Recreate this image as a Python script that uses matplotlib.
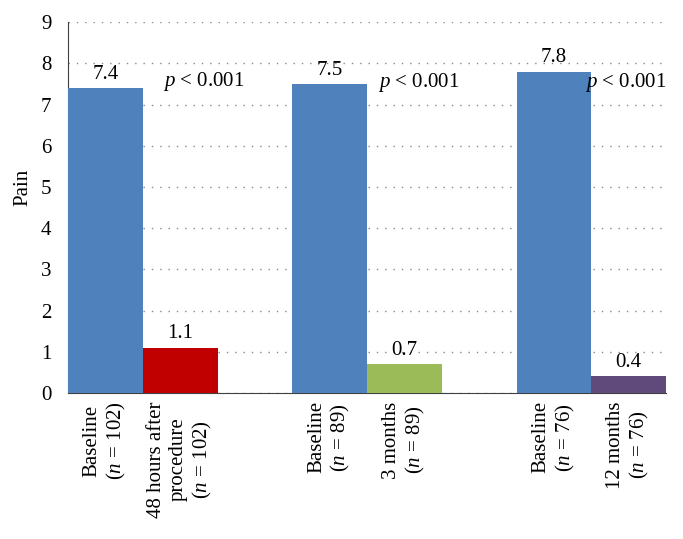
import matplotlib
matplotlib.use('Agg')
import matplotlib.pyplot as plt

plt.rcParams['font.family'] = ['Liberation Serif', 'DejaVu Serif']
plt.rcParams['mathtext.fontset'] = 'custom'
plt.rcParams['mathtext.rm'] = 'Liberation Serif'
plt.rcParams['mathtext.it'] = 'Liberation Serif:italic'

# data
positions = [0, 1, 3, 4, 6, 7]
pain = [7.4, 1.1, 7.5, 0.7, 7.8, 0.4]
value_labels = ['7.4', '1.1', '7.5', '0.7', '7.8', '0.4']
colors = ['#4F81BD', '#C00000', '#4F81BD', '#9BBB59', '#4F81BD', '#604A7B']
tick_labels = ['Baseline\n($n$ = 102)', '48 hours after\nprocedure\n($n$ = 102)',
               'Baseline\n($n$ = 89)', '3 months\n($n$ = 89)',
               'Baseline\n($n$ = 76)', '12 months\n($n$ = 76)']
p_text = ['$p$ < 0.001'] * 3
p_x = [0.77, 3.65, 6.42]
p_y = [7.55, 7.53, 7.53]

FS = 15

fig = plt.figure(figsize=(6.83, 5.39), dpi=100, facecolor='w')
ax = fig.add_axes([0.0996, 0.271, 0.8755, 0.688])

ax.bar(positions, pain, width=1.0, color=colors, zorder=3)
for x, v, s in zip(positions, pain, value_labels):
    ax.annotate(s, (x, v), xytext=(0, 3), textcoords='offset points',
                ha='center', va='bottom', fontsize=FS)
for x, y, s in zip(p_x, p_y, p_text):
    ax.text(x, y, s, ha='left', va='center', fontsize=FS)

ax.set_xlim(-0.5, 7.5)
ax.set_ylim(0, 9)
ax.set_yticks(range(0, 10))
ax.yaxis.grid(True, linestyle=(0, (1, 5)), color='#8a8a8a', linewidth=1, zorder=0)
ax.set_xticks(positions)
ax.set_xticklabels(tick_labels, rotation=90, fontsize=FS, va='top', ha='center',
                   multialignment='center', linespacing=1.2)
ax.tick_params(axis='both', length=0, labelsize=FS)
ax.tick_params(axis='x', pad=6)
ax.tick_params(axis='y', pad=12)
ax.set_ylabel('Pain', fontsize=FS)
ax.yaxis.set_label_coords(-0.06, 0.553)

for side in ['top', 'right']:
    ax.spines[side].set_visible(False)
ax.spines['left'].set_color('#404040')
ax.spines['bottom'].set_color('#404040')

plt.savefig('out.png', dpi=100)
